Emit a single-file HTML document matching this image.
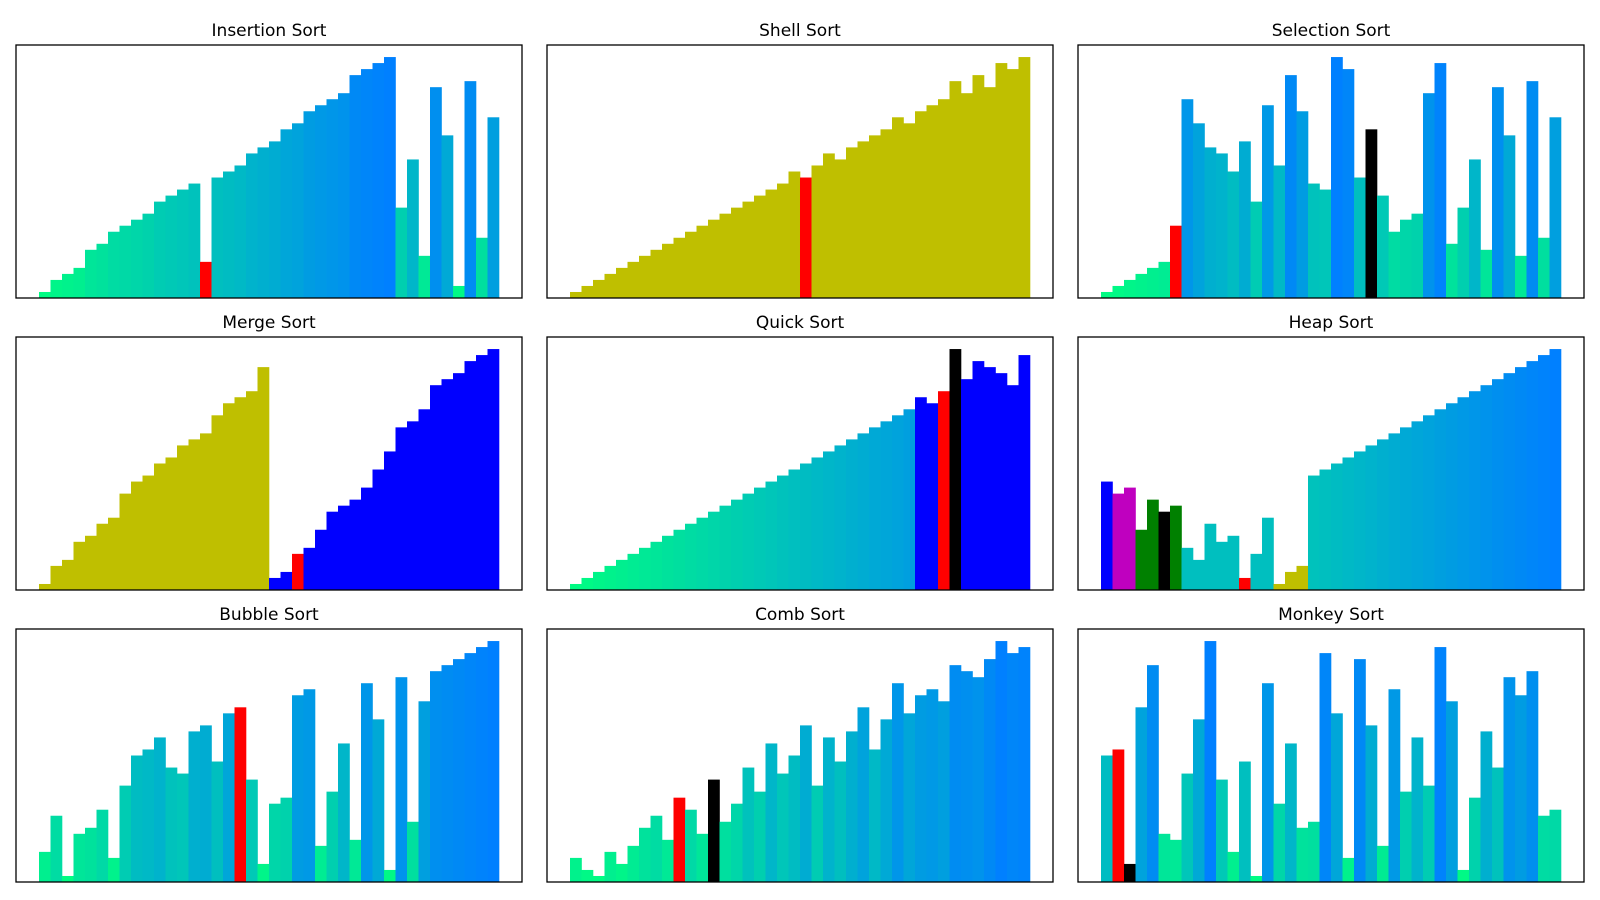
<!DOCTYPE html>
<html>
<head>
<meta charset="utf-8">
<style>
  html,body{margin:0;padding:0;background:#fff;}
  svg{display:block;}
  text{font-family:"DejaVu Sans","Liberation Sans",sans-serif;}
</style>
</head>
<body>
<svg id="chart" width="1600" height="900" viewBox="0 0 1600 900" xmlns="http://www.w3.org/2000/svg"></svg>
<script>
// ---- data (values 1..40, one array per panel) ----
const insertionValues = [1,3,4,5,8,9,11,12,13,14,16,17,18,19,6,20,21,22,24,25,26,28,29,31,32,33,34,37,38,39,40,15,23,7,35,27,2,36,10,30];
const shellValues = [1,2,3,4,5,6,7,8,9,10,11,12,13,14,15,16,17,18,19,21,20,22,24,23,25,26,27,28,30,29,31,32,33,36,34,37,35,39,38,40];
const selectionValues = [1,2,3,4,5,6,12,33,29,25,24,21,26,16,32,22,37,31,19,18,40,38,20,28,17,11,13,14,34,39,9,15,23,8,35,27,7,36,10,30];
const mergeValues = [1,4,5,8,9,11,12,16,18,19,21,22,24,25,26,29,31,32,33,37,2,3,6,7,10,13,14,15,17,20,23,27,28,30,34,35,36,38,39,40];
const quickValues = [1,2,3,4,5,6,7,8,9,10,11,12,13,14,15,16,17,18,19,20,21,22,23,24,25,26,27,28,29,30,32,31,33,40,35,38,37,36,34,39];
const heapValues = [18,16,17,10,15,13,14,7,5,11,8,9,2,6,12,1,3,4,19,20,21,22,23,24,25,26,27,28,29,30,31,32,33,34,35,36,37,38,39,40];
const bubbleValues = [5,11,1,8,9,12,4,16,21,22,24,19,18,25,26,20,28,29,17,3,13,14,31,32,6,15,23,7,33,27,2,34,10,30,35,36,37,38,39,40];
const combValues = [4,2,1,5,3,6,9,11,7,14,12,8,17,10,13,19,15,23,18,21,26,16,24,20,25,29,22,27,33,28,31,32,30,36,35,34,37,40,38,39];
const monkeyValues = [21,22,3,29,36,8,7,18,27,40,17,5,20,1,33,13,23,9,10,38,28,4,37,26,6,32,15,24,16,39,30,2,14,25,19,34,31,35,11,12];
const panelTitles = ["Insertion Sort","Shell Sort","Selection Sort","Merge Sort","Quick Sort","Heap Sort","Bubble Sort","Comb Sort","Monkey Sort"];
// highlight state per panel: [startIndex, endIndex, color] ranges overriding the colormap
const insertionMarks = [[14,14,"#ff0000"]];
const shellMarks = [[0,39,"#bfbf00"],[20,20,"#ff0000"]];
const selectionMarks = [[6,6,"#ff0000"],[23,23,"#000000"]];
const mergeMarks = [[0,19,"#bfbf00"],[20,39,"#0000ff"],[22,22,"#ff0000"]];
const quickMarks = [[30,31,"#0000ff"],[32,32,"#ff0000"],[33,33,"#000000"],[34,39,"#0000ff"]];
const heapMarks = [[0,0,"#0000ff"],[1,2,"#bf00bf"],[3,4,"#008000"],[5,5,"#000000"],[6,6,"#008000"],[7,11,"#00bfbf"],[12,12,"#ff0000"],[13,14,"#00bfbf"],[15,17,"#bfbf00"]];
const bubbleMarks = [[17,17,"#ff0000"]];
const combMarks = [[9,9,"#ff0000"],[12,12,"#000000"]];
const monkeyMarks = [[1,1,"#ff0000"],[2,2,"#000000"]];

const panels = [
  {values: insertionValues, marks: insertionMarks, name: "insertion-sort"},
  {values: shellValues, marks: shellMarks, name: "shell-sort"},
  {values: selectionValues, marks: selectionMarks, name: "selection-sort"},
  {values: mergeValues, marks: mergeMarks, name: "merge-sort"},
  {values: quickValues, marks: quickMarks, name: "quick-sort"},
  {values: heapValues, marks: heapMarks, name: "heap-sort"},
  {values: bubbleValues, marks: bubbleMarks, name: "bubble-sort"},
  {values: combValues, marks: combMarks, name: "comb-sort"},
  {values: monkeyValues, marks: monkeyMarks, name: "monkey-sort"}
];

// ---- layout ----
const NS = "http://www.w3.org/2000/svg";
const svg = document.getElementById("chart");
const colX = [16, 547, 1078];
const rowY = [45, 337, 629];
const AW = 506, AH = 253;

function colormap(v){
  const g = Math.round(255 * (1 - v / 80));
  const b = Math.round(255 * (0.5 + v / 80));
  return "rgb(0," + g + "," + Math.min(255, b) + ")";
}

panels.forEach(function(p, k){
  const x0 = colX[k % 3], y0 = rowY[Math.floor(k / 3)];
  const n = p.values.length;
  const xmin = -2.5, xmax = n + 1.5;
  const ymax = 42;
  const xs = function(i){ return x0 + (i - xmin) / (xmax - xmin) * AW; };
  const ys = function(v){ return y0 + AH - v / ymax * AH; };

  const g = document.createElementNS(NS, "g");
  
  
  svg.appendChild(g);

  const title = document.createElementNS(NS, "text");
  
  
  title.setAttribute("x", x0 + AW / 2);
  title.setAttribute("y", y0 - 9);
  title.setAttribute("text-anchor", "middle");
  title.setAttribute("font-size", "17");
  title.setAttribute("fill", "#000");
  title.textContent = panelTitles[k];
  g.appendChild(title);

  p.values.forEach(function(v, i){
    let color = colormap(v);
    p.marks.forEach(function(m){ if (i >= m[0] && i <= m[1]) color = m[2]; });
    const r = document.createElementNS(NS, "rect");
    
    
    const xa = xs(i - 0.5), xb = xs(i + 0.5);
    r.setAttribute("x", xa.toFixed(2));
    r.setAttribute("width", (xb - xa + 0.3).toFixed(2));
    r.setAttribute("y", ys(v).toFixed(2));
    r.setAttribute("height", (ys(0) - ys(v)).toFixed(2));
    r.setAttribute("fill", color);
    g.appendChild(r);
  });

  const frame = document.createElementNS(NS, "rect");
  
  
  frame.setAttribute("x", x0);
  frame.setAttribute("y", y0);
  frame.setAttribute("width", AW);
  frame.setAttribute("height", AH);
  frame.setAttribute("fill", "none");
  frame.setAttribute("stroke", "#000");
  frame.setAttribute("stroke-width", "1.3");
  g.appendChild(frame);
});
</script>
</body>
</html>
